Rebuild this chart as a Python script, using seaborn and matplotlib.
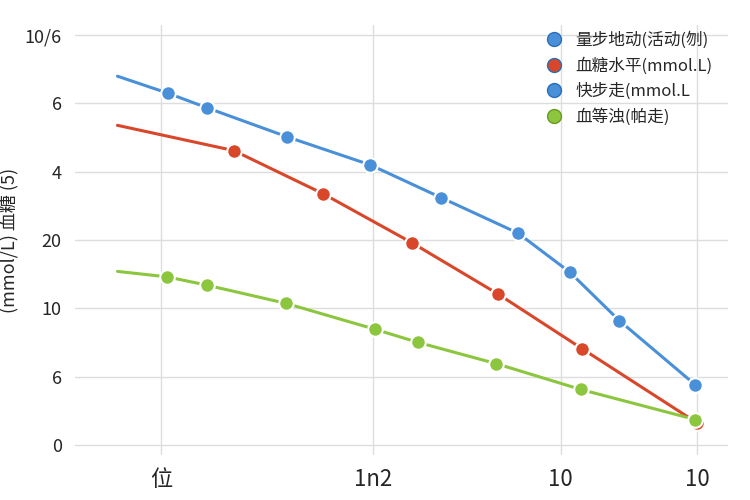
import matplotlib
matplotlib.use("Agg")
import matplotlib.pyplot as plt
import seaborn as sns
import pandas as pd

sns.set_theme(style="whitegrid")
plt.rcParams['font.family'] = ['Noto Sans CJK SC', 'DejaVu Sans']

blue_x = [0.17, 0.67, 1.05, 1.85, 2.67, 3.37, 4.13, 4.64, 5.13, 5.88]
blue_y = [5.4, 5.15, 4.94, 4.51, 4.10, 3.62, 3.10, 2.53, 1.82, 0.88]
red_x = [0.17, 1.32, 2.2, 3.08, 3.93, 4.76, 5.9]
red_y = [4.68, 4.31, 3.68, 2.96, 2.21, 1.41, 0.32]
green_x = [0.17, 0.66, 1.05, 1.84, 2.72, 3.14, 3.91, 4.75, 5.88]
green_y = [2.54, 2.46, 2.34, 2.07, 1.69, 1.50, 1.19, 0.81, 0.37]
ytick_labels = ['0', '6', '10', '20', '4', '6', '10/6']
xtick_pos = [0.6, 2.7, 4.55, 5.9]
xtick_labels = ['位', '1n2', '10', '10']
legend_labels = ['量步地动(活动(刎)', '血糖水平(mmol.L)', '快步走(mmol.L', '血等浊(帕走)']

fig, ax = plt.subplots(figsize=(7.5, 5), dpi=100)
series = [(blue_x, blue_y, '#4a90d9', legend_labels[0]),
          (red_x, red_y, '#d9472b', legend_labels[1]),
          (green_x, green_y, '#8cc63f', legend_labels[3])]
for xs, ys, c, lab in series:
    df = pd.DataFrame({'x': xs, 'y': ys})
    sns.lineplot(data=df, x='x', y='y', ax=ax, color=c, lw=2.2, label=None)
    ax.scatter(xs[1:], ys[1:], s=110, color=c, edgecolor='white', linewidth=1.5, zorder=3)

from matplotlib.lines import Line2D
handles = [Line2D([], [], marker='o', ls='', color=c, markersize=10, markeredgecolor='#2a6fb5' if i != 3 else '#6a9a20')
           for i, c in enumerate(['#4a90d9', '#d9472b', '#4a90d9', '#8cc63f'])]
ax.legend(handles, legend_labels, loc='upper right', frameon=False, fontsize=12,
          handletextpad=0.3, bbox_to_anchor=(1.0, 1.02))
ax.set_xlim(-0.25, 6.2)
ax.set_ylim(-0.15, 6.15)
ax.set_yticks(range(7))
ax.set_yticklabels(ytick_labels, fontsize=13)
ax.set_xticks(xtick_pos)
ax.set_xticklabels(xtick_labels, fontsize=16)
ax.set_xlabel('')
ax.set_ylabel('(mmol/L) 血糖 (5)', fontsize=13)
for s in ax.spines.values():
    s.set_visible(False)
ax.grid(color='#dddddd')
fig.subplots_adjust(left=0.1, right=0.97, top=0.95, bottom=0.09)
fig.savefig('out.png')
